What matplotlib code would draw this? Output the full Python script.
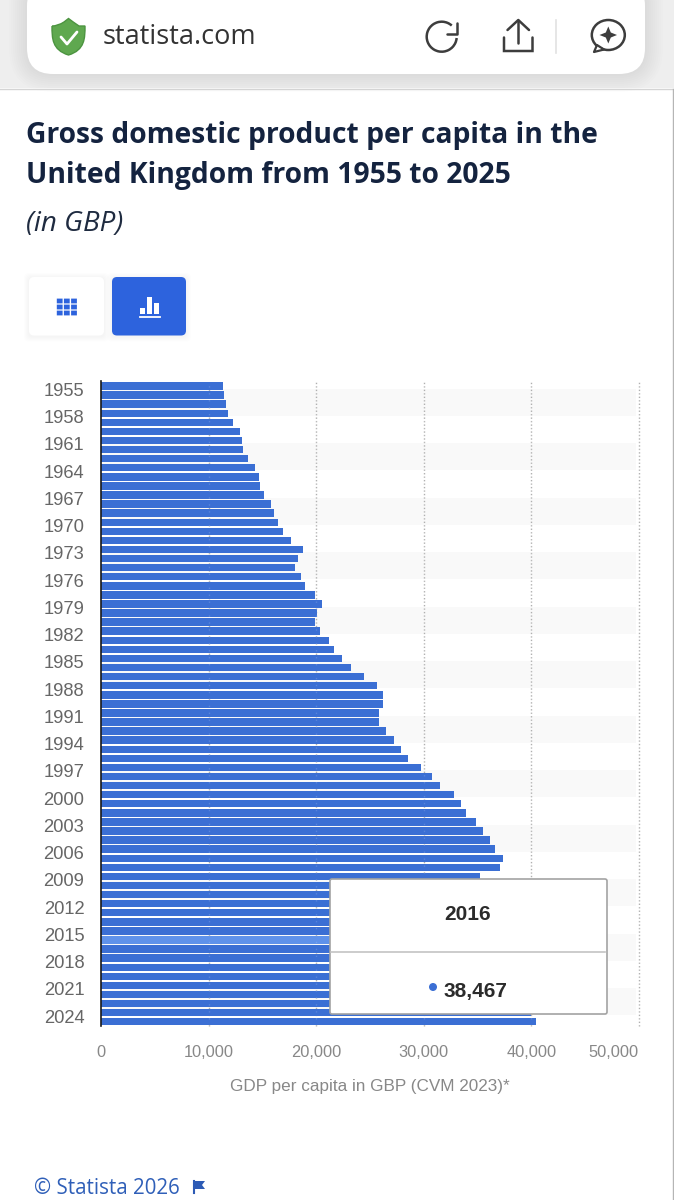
import numpy as np
import matplotlib
matplotlib.use('Agg')
import matplotlib.pyplot as plt
from matplotlib.patches import FancyBboxPatch, Rectangle, Polygon, Arc, Circle, Ellipse, PathPatch
from matplotlib.path import Path

# values, 2010-2023 mostly sit behind the tooltip
years = list(range(1955, 2026))
gdp_per_capita = [
    11300, 11460, 11650, 11800, 12270, 12920, 13070, 13230, 13690, 14340,
    14650, 14810, 15150, 15770, 16110, 16420, 16880, 17660, 18800, 18340,
    18000, 18620, 18960, 19920, 20570, 20070, 19920, 20380, 21190, 21650,
    22440, 23230, 24400, 25650, 26250, 26250, 25840, 25840, 26490, 27230,
    27880, 28530, 29740, 30760, 31500, 32800, 33460, 33920, 34850, 35500,
    36150, 36620, 37400, 37080, 35200, 35700, 36000, 36300, 36800, 37600,
    38200, 38467, 39000, 39400, 39800, 35700, 38700, 40300, 39900, 39960,
    40430,
]
year_ticks = list(range(1955, 2025, 3))
value_ticks = [0, 10000, 20000, 30000, 40000, 50000]
highlight_year = 2016

BAR_BLUE = '#3b6fd4'
HILITE_BLUE = '#5f92ea'
BTN_BLUE = '#2d63dd'
NAVY = '#14233f'
ICON = '#3d3d3d'
W, H = 674, 1200

fig = plt.figure(figsize=(W / 100, H / 100), dpi=100, facecolor='white')


def px_axes(x0, y0, x1, y1):
    # axes position given in picture pixels (y from the top)
    return fig.add_axes([x0 / W, 1 - y1 / H, (x1 - x0) / W, (y1 - y0) / H])


# ---------------------------------------------------------
# page furniture, drawn in pixel coordinates
# ---------------------------------------------------------
bg = px_axes(0, 0, W, H)
bg.set_xlim(0, W)
bg.set_ylim(H, 0)
bg.axis('off')
bg.set_zorder(0)

bg.add_patch(Rectangle((0, 0), W, 88, fc='#eeeeee', ec='none'))
bg.plot([0, W], [88.5, 88.5], color='#d4d4d4', lw=1)
bg.plot([673, 673], [89, H], color='#b5b5b5', lw=1)
# soft shadow under the address bar
for grow in range(2, 20, 2):
    bg.add_patch(FancyBboxPatch((27 - grow, -20 - grow), 618 + 2 * grow, 94 + 2 * grow,
                                boxstyle='round,pad=0,rounding_size=%d' % (26 + grow),
                                fc='black', ec='none', alpha=0.006))
bg.add_patch(FancyBboxPatch((27, -20), 618, 94, boxstyle='round,pad=0,rounding_size=26',
                            fc='white', ec='none'))

# shield
shield = Path([(52, 26), (58, 26), (64, 22), (68.5, 18.5), (73, 22), (79, 26), (85, 26),
               (85, 38), (85, 50), (68.5, 55), (52, 50), (52, 38), (52, 26)],
              [Path.MOVETO, Path.CURVE3, Path.CURVE3, Path.LINETO, Path.CURVE3, Path.CURVE3,
               Path.LINETO, Path.CURVE4, Path.CURVE4, Path.CURVE4, Path.CURVE4, Path.CURVE4, Path.CURVE4])
bg.add_patch(PathPatch(shield, fc='#5fa84f', ec='#4c9440', lw=1))
bg.plot([61, 67, 77], [37, 44, 32], color='white', lw=2, solid_capstyle='round')
bg.text(103, 37, 'statista.com', fontsize=19.5, family='Open Sans', color='#333333',
        ha='left', va='center')

# reload
bg.add_patch(Arc((441.7, 36.7), 30, 30, theta1=5, theta2=312, color=ICON, lw=1.8))
bg.plot([456.7, 456.7, 446.7], [23.3, 34.3, 34.3], color=ICON, lw=1.8, solid_capstyle='round')
# share
bg.plot([518.3, 518.3], [21, 43], color=ICON, lw=1.8, solid_capstyle='round')
bg.plot([507.5, 518.3, 529], [30, 20, 30], color=ICON, lw=1.8, solid_capstyle='round')
tray = Path([(504, 37.5), (504, 51), (504, 51), (510, 51), (526.5, 51), (532.5, 51), (532.5, 51), (532.5, 37.5)],
            [Path.MOVETO, Path.LINETO, Path.CURVE3, Path.CURVE3, Path.LINETO, Path.CURVE3, Path.CURVE3, Path.LINETO])
bg.add_patch(PathPatch(tray, fc='none', ec=ICON, lw=1.8, capstyle='round'))
# separator
bg.plot([556, 556], [20, 53], color='#e2e2e2', lw=1.2)
# assistant bubble
bg.add_patch(Ellipse((608.3, 35), 33, 30, fc='none', ec=ICON, lw=1.8))
bg.add_patch(Polygon([(597, 45), (594, 52), (604, 49.5)], fc='white', ec=ICON, lw=1.6, joinstyle='round'))
bg.add_patch(Polygon([(608.3, 26.5), (610.8, 32.5), (617, 35), (610.8, 37.5), (608.3, 43.5),
                      (605.8, 37.5), (599.5, 35), (605.8, 32.5)], fc=ICON, ec='none'))

# headings
bg.text(26, 136, 'Gross domestic product per capita in the', fontsize=20.3, weight='bold',
        family='Open Sans', color=NAVY, ha='left', va='center')
bg.text(26, 176, 'United Kingdom from 1955 to 2025', fontsize=20.3, weight='bold',
        family='Open Sans', color=NAVY, ha='left', va='center')
bg.text(26, 224, '(in GBP)', fontsize=20, style='italic', family='Open Sans',
        color='#1f2b40', ha='left', va='center')

# view buttons
for grow in [5, 4, 3, 2, 1]:
    bg.add_patch(FancyBboxPatch((29 - grow, 277 + 1 - grow), 75 + 2 * grow, 58.5 + 2 * grow,
                                boxstyle='round,pad=0,rounding_size=5', fc='black', ec='none', alpha=0.006))
    bg.add_patch(FancyBboxPatch((112 - grow, 277 + 1 - grow), 74 + 2 * grow, 58.5 + 2 * grow,
                                boxstyle='round,pad=0,rounding_size=5', fc='black', ec='none', alpha=0.006))
bg.add_patch(FancyBboxPatch((29, 277), 75, 58.5, boxstyle='round,pad=0,rounding_size=5',
                            fc='white', ec='none'))
for cx in [59.7, 66.8, 74]:
    for cy in [301, 307, 313]:
        bg.add_patch(Rectangle((cx - 2.9, cy - 2.4), 5.8, 4.8, fc=BTN_BLUE, ec='none', snap=False))
bg.add_patch(FancyBboxPatch((112, 277), 74, 58.5, boxstyle='round,pad=0,rounding_size=5',
                            fc=BTN_BLUE, ec='none'))
bg.add_patch(Rectangle((140, 307.7), 5, 6.5, fc='white', ec='none'))
bg.add_patch(Rectangle((146.7, 297.3), 5.3, 16.9, fc='white', ec='none'))
bg.add_patch(Rectangle((153.7, 302.7), 5, 11.5, fc='white', ec='none'))
bg.plot([139.7, 160], [317.3, 317.3], color='white', lw=1.3)

# footer
bg.text(34, 1189, '© Statista 2026', fontsize=14.8, family='Open Sans', color='#2f5fb8',
        ha='left', va='center')
bg.plot([194, 194], [1181, 1193], color='#2d5bb5', lw=1.5)
bg.add_patch(Polygon([(194, 1181), (205, 1181), (202, 1185), (205, 1189), (194, 1189)],
                     fc='#2d5bb5', ec='none'))

# ---------------------------------------------------------
# the chart
# ---------------------------------------------------------
ax = px_axes(101, 381, 639, 1026)
ax.set_zorder(1)
ax.patch.set_alpha(0)
ax.set_xlim(0, 50000)
ax.set_ylim(2025.47, 1954.45)

# zebra bands, three years wide
for start in year_ticks[::2]:
    ax.axhspan(start + 0.3, start + 3.3, xmin=0, xmax=0.994, color='#f9f9f9', lw=0, zorder=0)

colors = [HILITE_BLUE if y == highlight_year else BAR_BLUE for y in years]
ax.barh(years, gdp_per_capita, height=0.82, color=colors, zorder=2)

for v in value_ticks[1:]:
    ax.axvline(v, color='#b0b0b0', lw=1, ls=(0, (1, 1.5)), zorder=1, clip_on=False)
    ax.axvline(v, color='#ffffff', lw=1, ls=(0, (1, 4)), alpha=0.15, zorder=3, clip_on=False)

for s in ['top', 'right', 'bottom']:
    ax.spines[s].set_visible(False)
ax.spines['left'].set_color('#1a1a1a')
ax.spines['left'].set_linewidth(1.2)
ax.spines['left'].set_zorder(5)

ax.set_yticks([y + 0.38 for y in year_ticks])
ax.set_yticklabels([str(y) for y in year_ticks], fontsize=13.2, family='Liberation Sans',
                   color='#666666')
ax.set_xticks(value_ticks)
ax.set_xticklabels([f'{v:,}' for v in value_ticks], fontsize=11.8, family='Liberation Sans',
                   color='#888888')
ax.get_xticklabels()[-1].set_ha('right')
ax.tick_params(axis='y', length=0, pad=12)
ax.tick_params(axis='x', length=0, pad=14)
ax.set_xlabel('GDP per capita in GBP (CVM 2023)*', fontsize=12.3, family='Liberation Sans',
              color='#888888', labelpad=10)
ax.xaxis.set_label_coords((370 - 101) / 538, -(1087 - 1026) / 645, transform=ax.transAxes)
ax.xaxis.label.set_va('center')

# ---------------------------------------------------------
# tooltip sits on top of the bars
# ---------------------------------------------------------
tip = px_axes(0, 0, W, H)
tip.set_xlim(0, W)
tip.set_ylim(H, 0)
tip.axis('off')
tip.set_zorder(2)
tip.patch.set_alpha(0)

tip.add_patch(FancyBboxPatch((330, 879), 277, 135, boxstyle='round,pad=0,rounding_size=2',
                             fc='white', ec='#a3a3a3', lw=1.2))
tip.plot([331, 605], [951.5, 951.5], color='#c4c4c4', lw=1.2)
tip.text(467.5, 914.5, str(highlight_year), fontsize=15, weight='bold', family='Liberation Sans',
         color='#2b2b2b', ha='center', va='center')
tip.add_patch(Circle((433, 987), 4, fc=BAR_BLUE, ec='none'))
tip.text(444, 991, f'{gdp_per_capita[years.index(highlight_year)]:,}', fontsize=15, weight='bold',
         family='Liberation Sans', color='#2b2b2b', ha='left', va='center')

fig.savefig('out.png', dpi=100)
